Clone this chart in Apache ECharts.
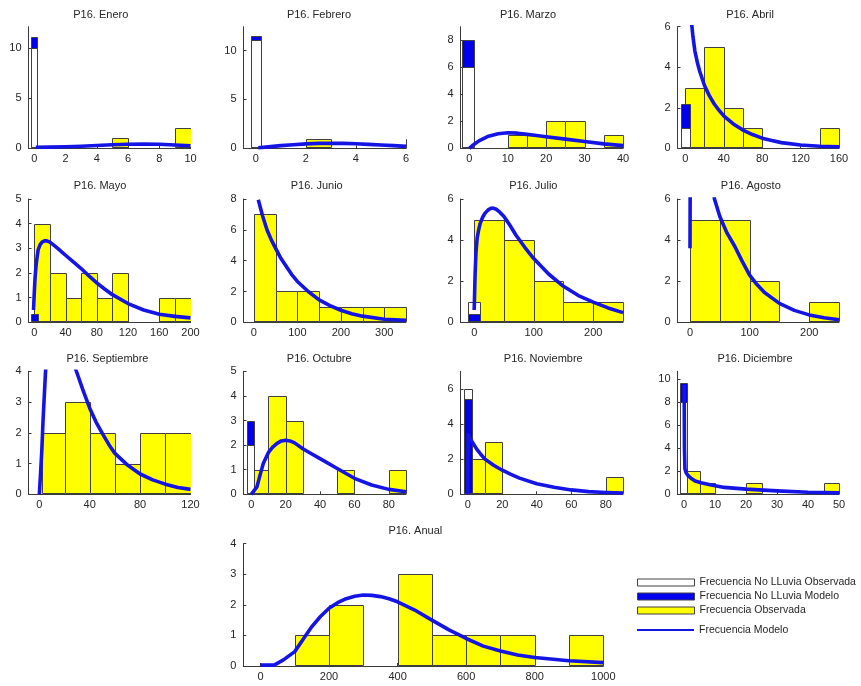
<!DOCTYPE html>
<html><head><meta charset="utf-8">
<script src="https://cdn.jsdelivr.net/npm/echarts@6/dist/echarts.min.js"></script>
<style>html,body{margin:0;padding:0;background:#fff}#c{width:861px;height:686px}</style>
</head><body><div id="c"></div>
<script>
// ---------- DATA ----------
const panelTitles = ['P16. Enero','P16. Febrero','P16. Marzo','P16. Abril','P16. Mayo','P16. Junio',
  'P16. Julio','P16. Agosto','P16. Septiembre','P16. Octubre','P16. Noviembre','P16. Diciembre','P16. Anual'];

// observed rainfall histogram bins: [binStart, binEnd, count]
const obsBins = [
  [[5,6,1],[9,10,2]],
  [[2,3,1],[6,7,1]],
  [[10,15,1],[15,20,1],[20,25,2],[25,30,2],[35,40,1]],
  [[0,20,3],[20,40,5],[40,60,2],[60,80,1],[140,160,1]],
  [[0,20,4],[20,40,2],[40,60,1],[60,80,2],[80,100,1],[100,120,2],[160,180,1],[180,200,1]],
  [[0,50,7],[50,100,2],[100,150,2],[150,200,1],[200,250,1],[250,300,1],[300,350,1]],
  [[0,50,5],[50,100,4],[100,150,2],[150,200,1],[200,250,1]],
  [[0,50,5],[50,100,5],[100,150,2],[200,250,1]],
  [[2.5,20,2],[20,40,3],[40,60,2],[60,80,1],[80,100,2],[100,120,2]],
  [[0,10,1],[10,20,4],[20,30,3],[50,60,1],[80,90,1]],
  [[0,10,2],[10,20,3],[80,90,1]],
  [[0,5,2],[5,10,1],[20,25,1],[45,50,1]],
  [[100,200,1],[200,300,2],[400,500,3],[500,600,1],[600,700,1],[700,800,1],[900,1000,1]]
];

// no-rain frequencies (observed / model) and the x-extent of that bar
const noRainObs   = [10, 11.1, 6, 1, 0, null, 1, null, null, 2, 6, 8, null];
const noRainModel = [11.1, 11.45, 8, 2.2, 0.35, null, 0.38, null, null, 3, 5.4, 9.7, null];
const noRainBarX  = [[-0.2,0.2],[-0.2,0.2],[-1.8,1.1],[-4.5,4.5],[-4,4.5],null,[-10,10],null,null,[-2.5,1.5],[-2,2.2],[-1.2,1.0],null];

// fitted model frequency curves: [x, y]
const modelCurves = [
  [[0.1,0.1],[1,0.12],[2,0.15],[3,0.2],[4,0.28],[5,0.35],[6,0.4],[7,0.42],[8,0.4],[9,0.33],[10,0.25]],
  [[0.1,0.05],[0.5,0.15],[1,0.27],[1.5,0.37],[2,0.45],[2.5,0.5],[3,0.52],[3.5,0.5],[4,0.46],[4.5,0.4],[5,0.33],[5.5,0.27],[6,0.2]],
  [[0,0],[1,0.25],[2.5,0.55],[5,0.9],[7.5,1.08],[10,1.15],[12.5,1.12],[15,1.03],[17.5,0.95],[20,0.86],[25,0.68],[30,0.5],[35,0.33],[40,0.2]],
  [[6.5,6.2],[8,5.5],[10,4.8],[12.5,4.25],[15,3.8],[20,3.1],[25,2.6],[30,2.2],[35,1.88],[40,1.6],[50,1.2],[60,0.9],[70,0.68],[80,0.5],[90,0.38],[100,0.28],[120,0.16],[140,0.1],[160,0.08]],
  [[-1,0.5],[0,1.2],[1,1.8],[2,2.2],[3,2.5],[5,2.95],[7.5,3.15],[10,3.25],[13,3.3],[16,3.3],[20,3.25],[25,3.13],[30,3.0],[40,2.72],[50,2.45],[60,2.18],[70,1.88],[80,1.6],[90,1.35],[100,1.12],[120,0.76],[140,0.5],[160,0.33],[180,0.24],[200,0.18]],
  [[10,7.95],[20,6.9],[30,6.0],[40,5.35],[50,4.8],[62,4.15],[75,3.6],[87,3.1],[100,2.65],[125,2.0],[150,1.45],[175,1.08],[200,0.78],[225,0.56],[250,0.4],[300,0.2],[350,0.13]],
  [[0,0.6],[1.5,2.3],[3,3.4],[5,4.1],[7.5,4.5],[10,4.8],[14,5.1],[18,5.3],[23,5.46],[28,5.55],[32,5.56],[37,5.5],[43,5.36],[50,5.15],[60,4.72],[70,4.25],[85,3.65],[100,3.1],[125,2.35],[150,1.75],[175,1.3],[200,0.98],[225,0.7],[250,0.47]],
  [[0,3.6],[0.5,9],[10,14],[25,10],[41,6],[50,5.15],[62,4.35],[75,3.7],[87,3.0],[100,2.3],[112,1.85],[125,1.45],[150,0.92],[175,0.58],[200,0.36],[225,0.22],[250,0.12]],
  [[0,0],[1,0.7],[2,1.45],[3,2.45],[4,3.25],[5,4.05],[8,6],[15,8],[22,6.5],[29,4.05],[35,3.35],[40,2.8],[45,2.35],[50,1.98],[55,1.63],[60,1.33],[70,0.95],[80,0.66],[90,0.47],[100,0.33],[110,0.22],[120,0.16]],
  [[0,0],[3.3,0.3],[5,0.75],[7,1.25],[10,1.7],[12.5,1.92],[15,2.07],[17.5,2.17],[20,2.2],[22.5,2.17],[25,2.1],[30,1.85],[35,1.65],[40,1.45],[50,1.05],[60,0.65],[70,0.38],[80,0.2],[90,0.1]],
  [[0,0],[0.2,3.4],[1,3.25],[2.5,3.0],[5,2.6],[7.5,2.28],[10,2.0],[15,1.65],[20,1.37],[25,1.13],[30,0.92],[40,0.6],[50,0.4],[60,0.25],[70,0.15],[80,0.1],[90,0.07]],
  [[0.05,9.5],[0.15,4],[0.3,2.2],[0.7,1.85],[1.4,1.6],[2.5,1.35],[3.6,1.15],[5.5,1.0],[8,0.86],[13,0.6],[20,0.45],[30,0.3],[40,0.18],[50,0.12]],
  [[0,0.03],[40,0.03],[67,0.2],[100,0.47],[125,0.88],[150,1.29],[175,1.62],[200,1.89],[225,2.07],[250,2.2],[275,2.28],[300,2.32],[325,2.31],[350,2.27],[375,2.2],[400,2.1],[450,1.83],[500,1.5],[550,1.18],[600,0.9],[650,0.65],[700,0.49],[750,0.36],[800,0.28],[900,0.17],[1000,0.11]]
];

// tick labels
const xTickValues = [
  [0,2,4,6,8,10],[0,2,4,6],[0,10,20,30,40],[0,40,80,120,160],
  [0,40,80,120,160,200],[0,100,200,300],[0,100,200],[0,100,200],
  [0,40,80,120],[0,20,40,60,80],[0,20,40,60,80],[0,10,20,30,40,50],
  [0,200,400,600,800,1000]
];
const yTickValues = [
  [0,5,10],[0,5,10],[0,2,4,6,8],[0,2,4,6],
  [0,1,2,3,4,5],[0,2,4,6,8],[0,2,4,6],[0,2,4,6],
  [0,1,2,3,4],[0,1,2,3,4,5],[0,2,4,6],[0,2,4,6,8,10],
  [0,1,2,3,4]
];
// axis ranges
const xRanges = [[-0.37,10],[-0.49,6],[-2.3,40],[-8.1,160],[-7.4,200],[-24,350],[-23,250],[-21,250],
  [-8.6,120],[-4.5,90],[-4.2,90],[-2.1,50],[-50,1000]];
const yMaxes = [12.1,12.45,9,6,5,8,6,6,4,5,7,10.7,4];

const legendNames = ['Frecuencia No LLuvia Observada','Frecuencia No LLuvia Modelo','Frecuencia Observada','Frecuencia Modelo'];

// ---------- LAYOUT / STYLE ----------
const colL = [28.5, 243.5, 460.5, 677.5], colR = [190.5, 406, 623, 839];
const rowT = [26.7, 199, 371.3, 543.7], rowB = [148.3, 322.3, 494.3, 666];
const gridBoxes = [];
for (let i = 0; i < 12; i++) { const r = Math.floor(i/4), c = i%4; gridBoxes.push([colL[c], rowT[r], colR[c], rowB[r]]); }
gridBoxes.push([243.3, rowT[3], 603.3, rowB[3]]);
const titleCenters = [100.8,319,528,750, 100,316.7,533.3,750.8, 107.5,319.2,543.3,755, 415.3];
const titleMid = [15,15,15,15, 186.7,186.7,186.7,186.7, 359.3,359.3,359.3,359.3, 531.7];

const FONT = '"Liberation Sans", Arial, sans-serif';
const TXT = '#262626', AX = '#3a3a3a', EDGE = '#404040';
const WHITE = '#ffffff', BLUE = '#0000ee', YELLOW = '#ffff00', LINEBLUE = '#1414e6';

function rectRenderer(fill) {
  return function (params, api) {
    const x0 = api.value(0), x1 = api.value(1), y0 = api.value(2), y1 = api.value(3);
    const a = api.coord([x0, y1]), b = api.coord([x1, y0]);
    const cs = params.coordSys;
    let xa = Math.max(Math.min(a[0], b[0]), cs.x), xb = Math.min(Math.max(a[0], b[0]), cs.x + cs.width);
    let ya = Math.max(Math.min(a[1], b[1]), cs.y), yb = Math.min(Math.max(a[1], b[1]), cs.y + cs.height);
    if (xb < xa || yb < ya) return null;
    xa = Math.round(xa) + 0.5; xb = Math.round(xb) + 0.5; ya = Math.round(ya) + 0.5; yb = Math.round(yb) - 0.5;
    return { type: 'rect', shape: { x: xa, y: ya, width: xb - xa, height: yb - ya },
      style: { fill: fill, stroke: EDGE, lineWidth: 1 } };
  };
}
const plainNum = v => String(v);

const grid = [], xAxis = [], yAxis = [], series = [], title = [];
panelTitles.forEach((t, i) => {
  const [l, tp, r, b] = gridBoxes[i];
  grid.push({ left: l, top: tp, width: r - l, height: b - tp, containLabel: false, outerBoundsMode: 'none' });
  title.push({ text: t, left: titleCenters[i], top: titleMid[i] - 6, padding: 0, textAlign: 'center',
    textStyle: { fontSize: 11, fontWeight: 'normal', color: TXT, fontFamily: FONT } });
  xAxis.push({ type: 'value', gridIndex: i, min: xRanges[i][0], max: xRanges[i][1],
    splitLine: { show: false },
    axisLine: { show: true, onZero: false, lineStyle: { color: AX, width: 1 } },
    axisTick: { show: true, inside: true, length: 3, customValues: xTickValues[i], lineStyle: { color: AX } },
    axisLabel: { customValues: xTickValues[i], formatter: plainNum, margin: 5, fontSize: 11, color: TXT, fontFamily: FONT } });
  yAxis.push({ type: 'value', gridIndex: i, min: 0, max: yMaxes[i],
    splitLine: { show: false },
    axisLine: { show: true, onZero: false, lineStyle: { color: AX, width: 1 } },
    axisTick: { show: true, inside: true, length: 3, customValues: yTickValues[i], lineStyle: { color: AX } },
    axisLabel: { customValues: yTickValues[i], formatter: plainNum, margin: 7, fontSize: 11, color: TXT, fontFamily: FONT } });

  series.push({ type: 'custom', name: legendNames[2], xAxisIndex: i, yAxisIndex: i, z: 2, clip: true,
    itemStyle: { color: YELLOW, borderColor: EDGE, borderWidth: 1 },
    renderItem: rectRenderer(YELLOW), data: obsBins[i].map(d => [d[0], d[1], 0, d[2]]),
    encode: { x: [0, 1], y: [2, 3] }, silent: true });

  if (noRainBarX[i]) {
    const bx = noRainBarX[i];
    const obsOnTop = noRainObs[i] <= noRainModel[i];
    series.push({ type: 'custom', name: legendNames[0], xAxisIndex: i, yAxisIndex: i, z: obsOnTop ? 4 : 3, clip: true,
      itemStyle: { color: WHITE, borderColor: EDGE, borderWidth: 1 },
      renderItem: rectRenderer(WHITE), data: noRainObs[i] > 0 ? [[bx[0], bx[1], 0, noRainObs[i]]] : [],
      encode: { x: [0, 1], y: [2, 3] }, silent: true });
    series.push({ type: 'custom', name: legendNames[1], xAxisIndex: i, yAxisIndex: i, z: obsOnTop ? 3 : 4, clip: true,
      itemStyle: { color: BLUE, borderColor: EDGE, borderWidth: 1 },
      renderItem: rectRenderer(BLUE), data: [[bx[0], bx[1], 0, noRainModel[i]]],
      encode: { x: [0, 1], y: [2, 3] }, silent: true });
  }

  series.push({ type: 'line', name: legendNames[3], xAxisIndex: i, yAxisIndex: i, z: 6,
    data: modelCurves[i], showSymbol: false, symbol: 'none', clip: true, smooth: false, silent: true,
    itemStyle: { color: LINEBLUE }, lineStyle: { color: LINEBLUE, width: 3.6, join: 'round' } });
});

const legendText = { fontSize: 10.5, color: TXT, fontFamily: FONT, lineHeight: 14 };
const option = {
  animation: false,
  backgroundColor: '#ffffff',
  title, grid, xAxis, yAxis, series,
  legend: [
    { orient: 'vertical', left: 637, top: 575.5, padding: 0, itemGap: 0, itemWidth: 57, itemHeight: 7,
      selectedMode: false, textStyle: legendText,
      data: [
        { name: legendNames[0], icon: 'rect', itemStyle: { color: WHITE, borderColor: EDGE, borderWidth: 1 } },
        { name: legendNames[1], icon: 'rect', itemStyle: { color: BLUE, borderColor: EDGE, borderWidth: 1 } },
        { name: legendNames[2], icon: 'rect', itemStyle: { color: YELLOW, borderColor: EDGE, borderWidth: 1 } }
      ] },
    { orient: 'vertical', left: 637, top: 623, padding: 0, itemWidth: 57, itemHeight: 2,
      selectedMode: false, textStyle: legendText,
      data: [ { name: legendNames[3], icon: 'rect', itemStyle: { color: LINEBLUE, borderWidth: 0 } } ] }
  ]
};
const chart = echarts.init(document.getElementById('c'), null, { renderer: 'canvas' });
chart.setOption(option);
</script></body></html>
